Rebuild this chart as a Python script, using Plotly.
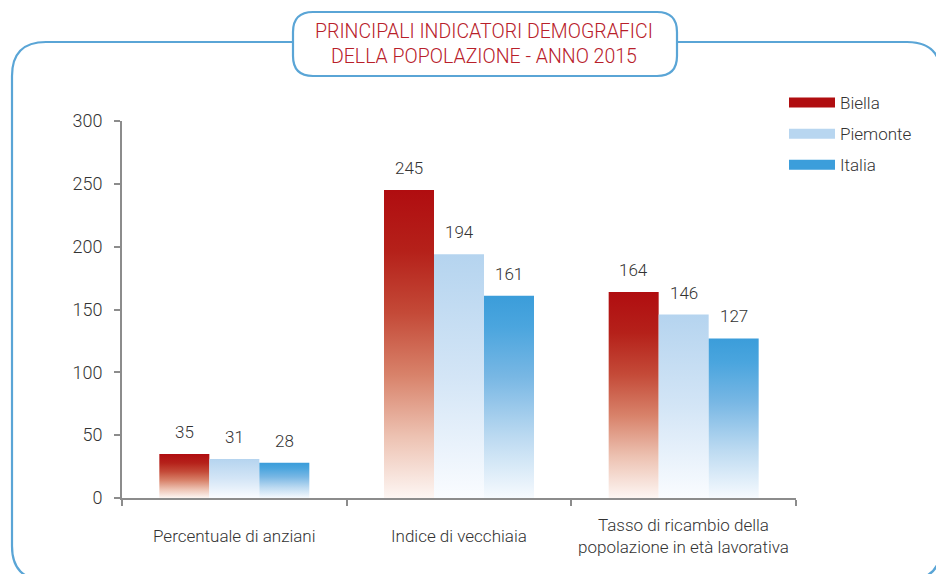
import plotly.graph_objects as go

categories = ["Percentuale di anziani", "Indice di vecchiaia",
              "Tasso di ricambio della<br>popolazione in età lavorativa"]
series_names = ["Biella", "Piemonte", "Italia"]
biella = [35, 245, 164]
piemonte = [31, 194, 146]
italia = [28, 161, 127]
y_ticks = [0, 50, 100, 150, 200, 250, 300]
title_text = "PRINCIPALI INDICATORI DEMOGRAFICI<br>DELLA POPOLAZIONE - ANNO 2015"

series_values = [biella, piemonte, italia]
legend_colors = ["#b00e10", "#b8d6f0", "#3c9edb"]
gradients = [
    [[0, "#fdf6f3"], [0.2, "#edc2b2"], [0.4, "#d8826a"], [0.6, "#c44a38"],
     [0.8, "#b5211a"], [1, "#b00d10"]],
    [[0, "#fafcff"], [0.5, "#d3e5f6"], [1, "#b5d4ef"]],
    [[0, "#f6fafe"], [0.3, "#bcdaf1"], [0.6, "#78b7e4"], [0.85, "#4aa5de"],
     [1, "#3b9dda"]],
]

FONT = "Roboto"
WEIGHT = 300
TXT = "#333333"

# page body has an 8px margin: target pixel positions are shifted by OFF
OFF = 8
W, H = 936, 566
L, T = 122 - OFF, 121 - OFF
R = W - (796 - OFF)
B = H - (498 - OFF)
pw, ph = W - L - R, H - T - B
bar_w = 50 / (pw / 3.0)  # in category units

def px(x):
    return (x - OFF - L) / pw

def py(y):
    return (H - B - (y - OFF)) / ph

fig = go.Figure()

annotations = []
for s, (name, vals) in enumerate(zip(series_names, series_values)):
    for i, v in enumerate(vals):
        c = i + (s - 1) * bar_w
        x0, x1 = c - bar_w / 2, c + bar_w / 2
        fig.add_trace(go.Scatter(
            x=[x0, x0, x1, x1, x0], y=[0, v, v, 0, 0],
            mode="lines", fill="toself", line=dict(width=0),
            fillgradient=dict(type="vertical", colorscale=gradients[s]),
            showlegend=False, hoverinfo="skip"))
        annotations.append(dict(
            x=c, y=v, xref="x", yref="y", text=str(v), showarrow=False,
            yanchor="middle", yshift=22,
            font=dict(family=FONT, size=17, color=TXT, weight=WEIGHT)))

for s, name in enumerate(series_names):
    fig.add_trace(go.Scatter(
        x=[None], y=[None], mode="lines", name=name,
        legendgroup=name,
        line=dict(color=legend_colors[s], width=10)))

for i, cat in enumerate(categories):
    annotations.append(dict(
        x=i, y=0, xref="x", yref="paper", text=cat, showarrow=False,
        yanchor="middle", yshift=-38,
        font=dict(family=FONT, size=17, color=TXT, weight=WEIGHT)))

# title box text
annotations.append(dict(
    x=px(484), y=py(44), xref="paper", yref="paper", text=title_text,
    showarrow=False, xanchor="center", yanchor="middle",
    font=dict(family=FONT, size=19.5, color="#b8202a", weight=WEIGHT)))

def rounded_rect(x0, y0, x1, y1, r):
    def P(x, y):
        return f"{px(x):.5f},{py(y):.5f}"
    return (f"M {P(x0 + r, y0)} L {P(x1 - r, y0)} Q {P(x1, y0)} {P(x1, y0 + r)} "
            f"L {P(x1, y1 - r)} Q {P(x1, y1)} {P(x1 - r, y1)} "
            f"L {P(x0 + r, y1)} Q {P(x0, y1)} {P(x0, y1 - r)} "
            f"L {P(x0, y0 + r)} Q {P(x0, y0)} {P(x0 + r, y0)} Z")

shapes = [
    dict(type="path", xref="paper", yref="paper",
         path=rounded_rect(12, 42, 941, 580, 34),
         line=dict(color="#5aa5d6", width=2.2), fillcolor="rgba(0,0,0,0)",
         layer="below"),
    dict(type="path", xref="paper", yref="paper",
         path=rounded_rect(293, 12, 677, 76, 20),
         line=dict(color="#5aa5d6", width=2.2), fillcolor="white",
         layer="above"),
]

fig.update_layout(
    width=W, height=H,
    margin=dict(l=L, r=R, t=T, b=B, pad=0),
    paper_bgcolor="white", plot_bgcolor="white",
    showlegend=True,
    legend=dict(
        x=px(784), y=py(85), xanchor="left", yanchor="top",
        font=dict(family=FONT, size=17, color=TXT, weight=WEIGHT),
        traceorder="grouped", tracegroupgap=6,
        bgcolor="rgba(0,0,0,0)", itemwidth=46),
    xaxis=dict(
        range=[-0.5, 2.5], showgrid=False, zeroline=False,
        showline=True, linecolor="#8c8c8c", linewidth=2,
        tickvals=[0, 1, 2], ticktext=["", "", ""], ticks="",
        minor=dict(tickvals=[-0.5, 0.5, 1.5, 2.5], ticks="outside",
                   ticklen=6, tickcolor="#8c8c8c", tickwidth=2),
        fixedrange=True),
    yaxis=dict(
        range=[0, 300], tickvals=y_ticks, showgrid=False, zeroline=False,
        showline=True, linecolor="#8c8c8c", linewidth=2,
        ticks="outside", ticklen=6, tickcolor="#8c8c8c", tickwidth=2,
        ticklabelstandoff=8,
        tickfont=dict(family=FONT, size=18, color=TXT, weight=WEIGHT),
        fixedrange=True),
    annotations=annotations,
    shapes=shapes,
)

fig.write_html("out.html")
